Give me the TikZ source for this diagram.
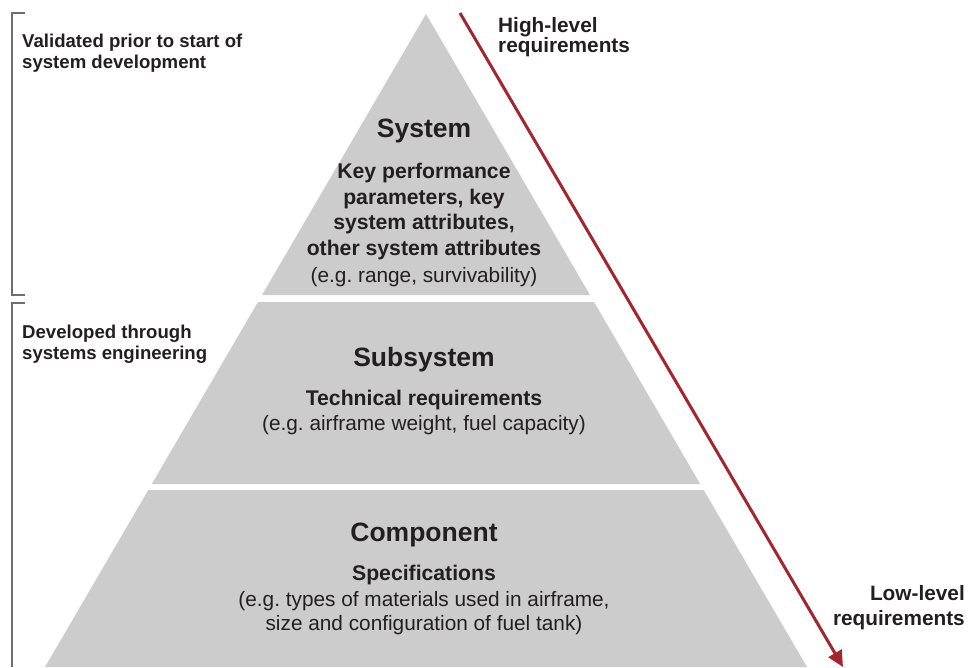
\documentclass[tikz,border=0pt]{standalone}
\usepackage{fontspec}
\setmainfont{Liberation Sans}
\usetikzlibrary{arrows.meta}
\frenchspacing
\definecolor{tierfill}{HTML}{CCCCCC}
\definecolor{txt}{HTML}{231F20}
\definecolor{brk}{HTML}{6D6E71}
\definecolor{arr}{HTML}{A4262C}
\tikzset{
  tier/.style={fill=tierfill, draw=none},
  ttl/.style={inner sep=0pt, anchor=base, text=txt, font=\fontsize{26.5}{31}\selectfont\bfseries},
  sub/.style={inner sep=0pt, anchor=base, text=txt, font=\fontsize{21.2}{25}\selectfont\bfseries},
  reg/.style={inner sep=0pt, anchor=base, text=txt, font=\fontsize{20.8}{24}\selectfont},
  note/.style={inner sep=0pt, anchor=base west, text=txt, font=\fontsize{18.6}{22}\selectfont\bfseries},
  side/.style={inner sep=0pt, text=txt, font=\fontsize{20.8}{25}\selectfont\bfseries},
  bracket/.style={draw=brk, line width=2.4pt},
  reqarrow/.style={draw=arr, line width=3pt, -{Triangle[length=16pt,width=15pt]}}
}
\begin{document}
\begin{tikzpicture}[x=1pt,y=-1pt]
\useasboundingbox (0,0) rectangle (969,667);
% pyramid tiers
\fill[tier] (426,14) -- (590,295) -- (262,295) -- cycle;
\fill[tier] (257.95,302) -- (594.05,302) -- (700.2,484) -- (151.8,484) -- cycle;
\fill[tier] (148.3,490) -- (703.7,490) -- (807,667) -- (45,667) -- cycle;
% brackets
\draw[bracket] (25,13) -- (12,13) -- (12,295) -- (25,295);
\draw[bracket] (25,303) -- (12,303) -- (12,667);
% left notes
\node[note] (n1a) at (22,47) {Validated prior to start of};
\node[note] (n1b) at (22,68) {system development};
\node[note] (n2a) at (22,338) {Developed through};
\node[note] (n2b) at (22,359) {systems engineering};
% system tier
\node[ttl] (sys) at (424,137.5) {System};
\node[sub] (s1) at (424,178.5) {Key performance};
\node[sub] (s2) at (424,204) {parameters, key};
\node[sub] (s3) at (424,229.5) {system attributes,};
\node[sub] (s4) at (424,255) {other system attributes};
\node[reg] (s5) at (424,282) {(e.g. range, survivability)};
% subsystem tier
\node[ttl] (subs) at (424,366) {Subsystem};
\node[sub] (t1) at (424,405) {Technical requirements};
\node[reg] (t2) at (424,430) {(e.g. airframe weight, fuel capacity)};
% component tier
\node[ttl] (comp) at (424,541.5) {Component};
\node[sub] (c1) at (424,580) {Specifications};
\node[reg] (c2) at (424,606) {(e.g. types of materials used in airframe,};
\node[reg] (c3) at (424,630) {size and configuration of fuel tank)};
% arrow
\coordinate (astart) at (460,13);
\coordinate (aend) at (843,667);
\draw[reqarrow] (astart) -- (aend);
\node[side, anchor=base west] (hl1) at (498,32) {High-level};
\node[side, anchor=base west] (hl2) at (498,52.5) {requirements};
\node[side, anchor=base east] (ll1) at (965,600) {Low-level};
\node[side, anchor=base east] (ll2) at (965,625) {requirements};
\end{tikzpicture}
\end{document}
